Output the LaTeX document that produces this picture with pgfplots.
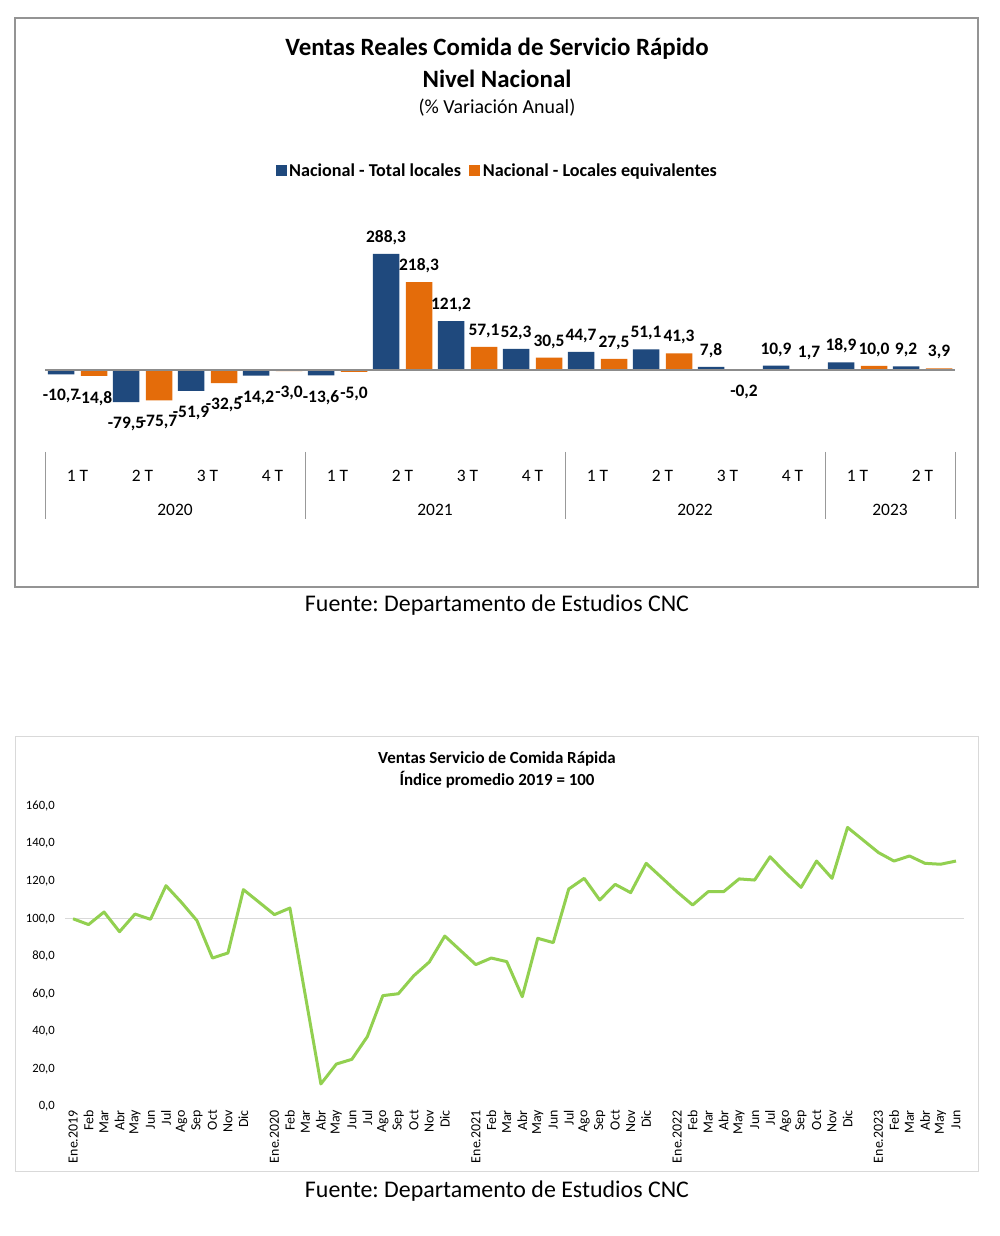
\documentclass[border=0pt]{standalone}
\usepackage{fontspec}
\setmainfont{Carlito}
\usepackage{pgfplots}
\usepackage{pgfplotstable}
\pgfplotsset{compat=1.18}
\frenchspacing

\definecolor{navy}{RGB}{31,73,125}
\definecolor{naranja}{RGB}{228,108,10}
\definecolor{verde}{RGB}{146,208,80}

% variacion anual por trimestre (2020 1T ... 2023 2T)
\pgfplotstableread{
i total equiv
0 -10.7 -14.8
1 -79.5 -75.7
2 -51.9 -32.5
3 -14.2 -3.0
4 -13.6 -5.0
5 288.3 218.3
6 121.2 57.1
7 52.3 30.5
8 44.7 27.5
9 51.1 41.3
10 7.8 -0.2
11 10.9 1.7
12 18.9 10.0
13 9.2 3.9
}\trimestres

% indice mensual, con un hueco entre anos
\pgfplotstableread{
x y
0 100.0
1 96.9
2 103.6
3 93.1
4 102.5
5 99.7
6 117.6
7 108.7
8 99.0
9 79.1
10 81.8
11 115.5
13 102.2
14 105.7
15 59.0
16 12.1
17 22.7
18 25.2
19 37.3
20 59.1
21 60.1
22 69.7
23 77.0
24 90.8
26 75.6
27 79.1
28 77.2
29 58.5
30 89.6
31 87.3
32 115.8
33 121.5
34 110.0
35 118.3
36 113.9
37 129.5
39 114.3
40 107.3
41 114.4
42 114.4
43 121.2
44 120.6
45 133.0
46 124.5
47 116.7
48 130.7
49 121.5
50 148.6
52 135.2
53 130.7
54 133.4
55 129.5
56 129.0
57 130.7
}\indice

\begin{document}
\begin{tikzpicture}[x=1bp,y=1bp]
\fill[white] (0,0) rectangle (1000,1236);
\useasboundingbox (0,0) rectangle (1000,1236);

% ---- grafico de barras ----
\draw[black!42, line width=1.5bp] (15,649) rectangle (978,1218);
\node[font=\bfseries\fontsize{25}{28}\selectfont] at (497,1187) {Ventas Reales Comida de Servicio Rápido};
\node[font=\bfseries\fontsize{25}{28}\selectfont] at (497,1157) {Nivel Nacional};
\node[font=\fontsize{20}{24}\selectfont] at (497,1128) {(\% Variación Anual)};

\begin{axis}[
    at={(45bp,825.7bp)}, anchor=south west,
    scale only axis, width=910bp, height=161.2bp,
    xmin=-0.5, xmax=13.5, ymin=-100, ymax=300,
    clip=false,
    axis line style={draw=none},
    major tick length=0,
    ytick=\empty,
    xtick={0,...,13},
    xticklabels={1 T,2 T,3 T,4 T,1 T,2 T,3 T,4 T,1 T,2 T,3 T,4 T,1 T,2 T},
    xticklabel style={font=\fontsize{17.5}{20}\selectfont, anchor=base, yshift=-71.5bp},
    ybar=6.5bp, bar width=26.5bp,
    nodes near coords,
    visualization depends on={rawy \as \rawy},
    every node near coord/.append style={font=\bfseries\fontsize{17.5}{20}\selectfont, inner sep=9bp,
        yshift={\rawy<0 ? -6 : 0}},
    /pgf/number format/fixed,
    /pgf/number format/fixed zerofill,
    /pgf/number format/precision=1,
    /pgf/number format/use comma,
    /pgf/number format/assume math mode=true,
    every axis plot post/.append style={legend image code/.code={\fill[##1] (0bp,-5.5bp) rectangle (11bp,5.5bp);}},
    legend style={at={(0.4973,1.4845)}, anchor=center, draw=none, fill=none,
        legend columns=-1, font=\bfseries\fontsize{18.2}{21}\selectfont,
        nodes={inner sep=2.5bp},
        /tikz/every even column/.append style={column sep=6bp}},
]
\addplot[fill=navy, draw=none] table[x=i, y=total] {\trimestres};
\addplot[fill=naranja, draw=none] table[x=i, y=equiv] {\trimestres};
\legend{Nacional - Total locales, Nacional - Locales equivalentes}
\draw[black!45, line width=1.2bp] (axis cs:-0.5,0) -- (axis cs:13.5,0);
\end{axis}

\foreach \sx in {45,305,565,825,955} {\draw[black!40, line width=1bp] (\sx,784) -- (\sx,717);}
\foreach \yx/\yr in {175/2020,435/2021,695/2022,890/2023} {\node[font=\fontsize{17.5}{20}\selectfont] at (\yx,726) {\yr};}

\node[font=\fontsize{24}{28}\selectfont] at (497,631) {Fuente: Departamento de Estudios CNC};

% ---- grafico de linea ----
\draw[black!15, line width=1bp] (15,64) rectangle (978,499);
\node[font=\bfseries\fontsize{17}{20}\selectfont] at (497,477) {Ventas Servicio de Comida Rápida};
\node[font=\bfseries\fontsize{17}{20}\selectfont] at (497,456) {Índice promedio 2019 = 100};

\begin{axis}[
    at={(65.3bp,129.3bp)}, anchor=south west,
    scale only axis, width=898.4bp, height=300.7bp,
    xmin=-0.5, xmax=57.5, ymin=0, ymax=160,
    axis line style={draw=none},
    major tick length=0,
    ytick={0,20,...,160},
    yticklabel style={font=\fontsize{12.7}{15}\selectfont, xshift=-7bp},
    extra y ticks={100}, extra y tick labels={},
    extra y tick style={grid=major, major grid style={black!15, line width=1bp}},
    xtick=data,
    xticklabels={Ene.2019,Feb,Mar,Abr,May,Jun,Jul,Ago,Sep,Oct,Nov,Dic,
        Ene.2020,Feb,Mar,Abr,May,Jun,Jul,Ago,Sep,Oct,Nov,Dic,
        Ene.2021,Feb,Mar,Abr,May,Jun,Jul,Ago,Sep,Oct,Nov,Dic,
        Ene.2022,Feb,Mar,Abr,May,Jun,Jul,Ago,Sep,Oct,Nov,Dic,
        Ene.2023,Feb,Mar,Abr,May,Jun},
    xticklabel style={font=\fontsize{14}{16}\selectfont, rotate=90, anchor=east},
    /pgf/number format/fixed,
    /pgf/number format/fixed zerofill,
    /pgf/number format/precision=1,
    /pgf/number format/use comma,
    /pgf/number format/assume math mode=true,
]
\addplot[verde, line width=3bp, mark=none, line join=round] table[x=x, y=y] {\indice};
\end{axis}

\node[font=\fontsize{24}{28}\selectfont] at (497,45) {Fuente: Departamento de Estudios CNC};
\end{tikzpicture}
\end{document}
